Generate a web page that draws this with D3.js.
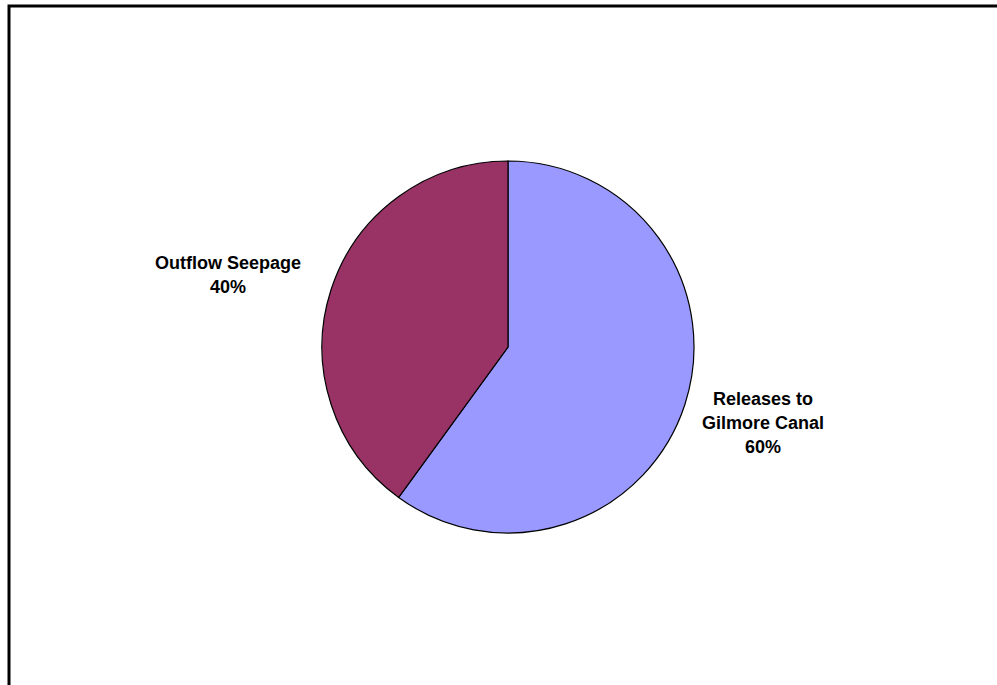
<!DOCTYPE html>
<html>
<head>
<meta charset="utf-8">
<script src="https://cdn.jsdelivr.net/npm/d3@7"></script>
<style>
  html, body { margin: 0; padding: 0; background: #fff; }
  svg { display: block; }
</style>
</head>
<body>
<svg id="chart" width="997" height="685"></svg>
<script>
const categories = ["Releases to Gilmore Canal", "Outflow Seepage"];
const values = [60, 40];
const labelLines = [["Releases to", "Gilmore Canal", "60%"], ["Outflow Seepage", "40%"]];
const colors = ["#9999FF", "#993366"];

const svg = d3.select("#chart");
const W = 997, H = 685;

svg.append("rect").attr("x", 0).attr("y", 0).attr("width", W).attr("height", H).attr("fill", "#fff");
// chart frame (extends past right/bottom edges)
svg.append("rect")
  .attr("x", 9).attr("y", 6).attr("width", 1000).attr("height", 700)
  .attr("fill", "none").attr("stroke", "#000").attr("stroke-width", 3);

const cx = 508, cy = 347, r = 186;
const pie = d3.pie().sort(null).value(d => d)(values);
const arc = d3.arc().innerRadius(0).outerRadius(r);

const g = svg.append("g").attr("transform", `translate(${cx},${cy})`);
g.selectAll("path").data(pie).join("path")
  .attr("d", arc)
  .attr("fill", (d, i) => colors[i])
  .attr("stroke", "#000").attr("stroke-width", 1.2);

// label positions (anchor centre x, first baseline y) relative to centre
const labelPos = [[255, 58], [-280, -78]];
const lineH = 24;
labelLines.forEach((lines, i) => {
  const t = g.append("text")
    .attr("text-anchor", "middle")
    .attr("font-family", "Arial, 'Liberation Sans', sans-serif")
    .attr("font-weight", "bold")
    .attr("font-size", 18)
    .attr("fill", "#000");
  lines.forEach((ln, j) => {
    t.append("tspan").attr("x", labelPos[i][0]).attr("y", labelPos[i][1] + j * lineH).text(ln);
  });
});
</script>
</body>
</html>
